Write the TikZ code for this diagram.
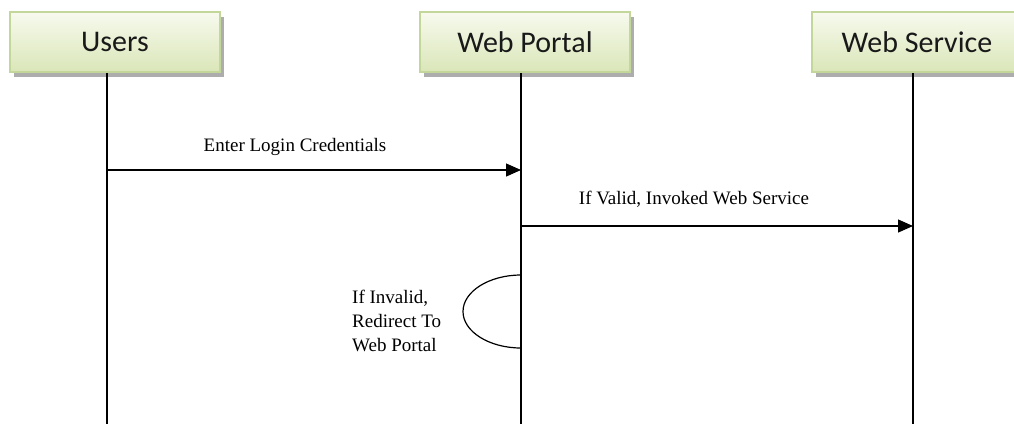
\documentclass[tikz,border=0pt]{standalone}
\usepackage{fontspec}
\setmainfont{Liberation Serif}
\newfontfamily\boxfont{Carlito}
\usepackage{tikz}
\usetikzlibrary{positioning,arrows.meta,shadows}

\definecolor{boxborder}{HTML}{C4D79B}
\definecolor{boxtop}{HTML}{F7FAEE}
\definecolor{boxbottom}{HTML}{DAE6B8}

\tikzset{
  actor/.style={draw=boxborder, line width=2pt, top color=boxtop, bottom color=boxbottom,
    minimum width=210pt, minimum height=60pt, text=black!90,
    font=\boxfont\fontsize{30}{35}\selectfont,
    drop shadow={shadow xshift=4pt, shadow yshift=-5pt, fill=black!40, opacity=0.8}},
  life/.style={line width=1.4pt},
  msg/.style={line width=1.2pt, -{Triangle[length=15pt,width=13pt]}},
  note/.style={font=\fontsize{19}{24}\selectfont, align=left, inner sep=0pt}
}

\begin{document}
\begin{tikzpicture}[x=1pt,y=-1pt]
% Page frame
\path[use as bounding box, clip] (0,0) rectangle (1014,424);

% Lifeline positions
\pgfmathsetmacro{\xu}{107} % Users
\pgfmathsetmacro{\xp}{521} % Web Portal
\pgfmathsetmacro{\xs}{913} % Web Service
\pgfmathsetmacro{\yb}{424} % bottom

% Header boxes
\node[actor] (users) at (115,42) {Users};
\node[actor] (portal) at (525,42) {Web Portal};
\node[actor] (service) at (917,42) {Web Service};

% Lifelines
\coordinate (usersEnd) at (\xu,\yb);
\coordinate (portalEnd) at (\xp,\yb);
\coordinate (serviceEnd) at (\xs,\yb);
\draw[life] (users.south -| usersEnd) -- (usersEnd);
\draw[life] (portal.south -| portalEnd) -- (portalEnd);
\draw[life] (service.south -| serviceEnd) -- (serviceEnd);

% Login message
\coordinate (loginA) at (\xu,170);
\coordinate (loginB) at (\xp,170);
\draw[msg] (loginA) -- (loginB);
\node[note] (login) at (295,147) {Enter Login Credentials};

% Valid message
\coordinate (validA) at (\xp,226);
\coordinate (validB) at (\xs,226);
\draw[msg] (validA) -- (validB);
\node[note] (valid) at (694,199) {If Valid, Invoked Web Service};

% Invalid self loop
\coordinate (loopA) at (\xp,275);
\coordinate (loopM) at (463,311.5);
\coordinate (loopB) at (\xp,348);
\draw[line width=1.2pt] (loopA) .. controls ([xshift=-32pt]loopA) and ([yshift=20pt]loopM) .. (loopM)
  .. controls ([yshift=-20pt]loopM) and ([xshift=-32pt]loopB) .. (loopB);
\node[note, anchor=west] (invalid) at (352,321) {If Invalid,\\Redirect To\\Web Portal};
\end{tikzpicture}
\end{document}
